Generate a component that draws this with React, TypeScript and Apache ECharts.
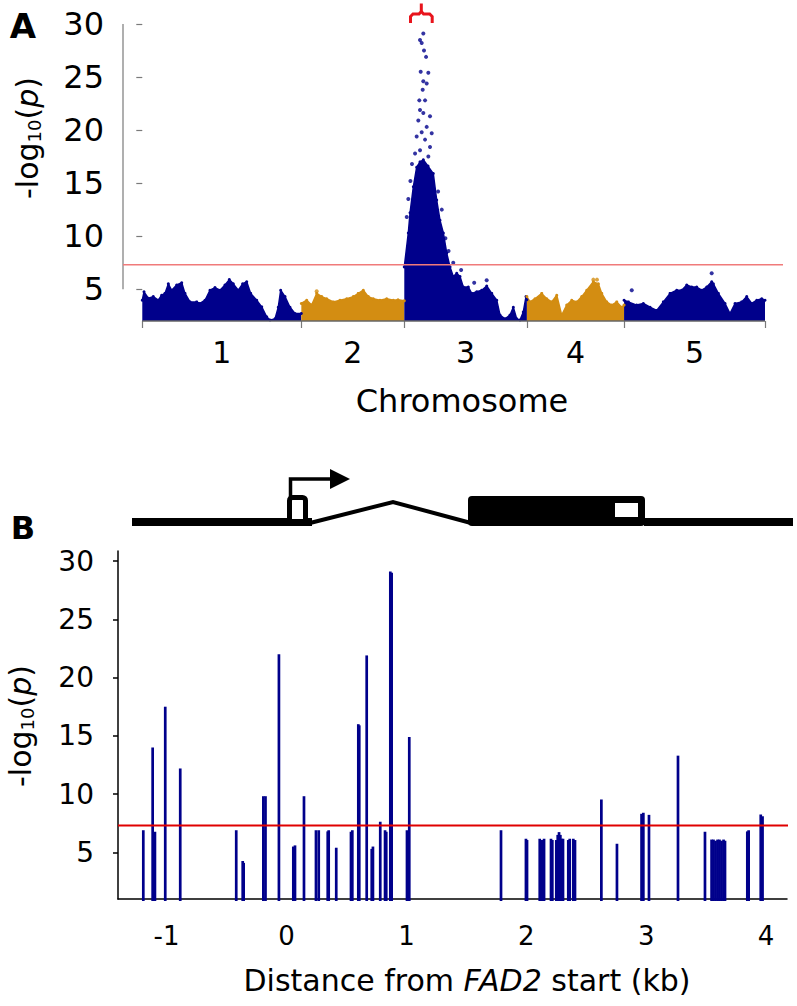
import React, { useEffect, useRef } from 'react';
import * as echarts from 'echarts';

// ---------------- Panel A data ----------------
const chromosomes = ['1', '2', '3', '4', '5'];
const chromosomeLengthsMb = [30.43, 19.7, 23.46, 18.59, 26.97];
const chromosomeColors = ['#00008b', '#d38d12', '#00008b', '#d38d12', '#00008b'];

// upper envelope of the dense SNP cloud, [cumulative genome position (Mb), -log10 p]
const chr1Envelope = [[0.0, 3.96], [0.33, 4.75], [1.15, 4.15], [2.1, 4.3], [3.06, 3.96], [3.7, 4.43], [4.34, 4.6], [4.98, 5.5], [5.62, 4.9], [6.58, 5.4], [7.54, 5.6], [8.17, 4.6], [9.13, 3.8], [10.4, 3.8], [11.04, 3.65], [12.0, 3.96], [12.95, 4.9], [13.91, 5.15], [14.87, 4.9], [15.82, 5.4], [16.65, 5.9], [17.41, 5.5], [18.37, 4.9], [19.2, 5.5], [19.98, 5.7], [20.74, 4.6], [21.89, 3.96], [22.85, 3.33], [23.8, 2.4], [24.44, 2.1], [25.39, 2.2], [26.02, 3.3], [26.48, 4.9], [27.31, 4.3], [28.26, 3.3], [29.22, 2.7], [30.43, 2.7]];
const chr2Envelope = [[30.43, 3.65], [31.46, 3.96], [32.41, 3.5], [33.37, 4.6], [34.33, 4.3], [35.28, 4.1], [36.55, 3.8], [37.83, 3.96], [39.11, 4.1], [40.38, 4.3], [41.33, 4.6], [42.29, 4.9], [43.25, 4.3], [44.2, 4.1], [45.48, 3.96], [46.76, 4.1], [48.03, 3.96], [48.93, 4.0], [50.13, 3.9]];
const chr3Envelope = [[50.13, 7.1], [50.9, 10.3], [51.23, 12.2], [51.86, 14.65], [52.5, 16.5], [53.14, 17.0], [53.77, 17.2], [54.67, 16.6], [55.68, 15.9], [56.33, 13.4], [56.96, 11.5], [57.6, 10.3], [58.25, 8.4], [58.88, 7.1], [59.51, 6.2], [60.16, 6.5], [60.79, 6.2], [61.42, 5.2], [62.38, 5.2], [63.03, 4.6], [63.99, 4.75], [64.95, 4.9], [65.9, 5.3], [66.86, 4.6], [67.82, 3.96], [68.45, 2.55], [69.41, 2.2], [70.35, 2.55], [70.99, 3.3], [71.64, 2.2], [72.27, 2.1], [72.9, 2.85], [73.42, 4.3], [73.59, 4.0]];
const chr4Envelope = [[73.59, 4.3], [74.19, 3.8], [75.14, 4.1], [76.43, 4.6], [77.38, 4.1], [78.34, 3.8], [79.3, 4.43], [80.25, 2.55], [81.21, 3.5], [82.17, 3.96], [83.12, 3.8], [84.08, 4.3], [85.04, 4.9], [86.3, 5.7], [87.26, 5.5], [87.91, 4.6], [88.86, 3.8], [89.82, 3.5], [90.78, 3.8], [91.73, 3.3], [92.18, 3.5]];
const chr5Envelope = [[92.18, 3.96], [93.0, 3.8], [94.6, 3.5], [95.87, 3.65], [97.15, 3.3], [98.43, 3.0], [99.7, 3.8], [100.98, 4.6], [102.26, 4.9], [103.21, 4.9], [104.17, 5.4], [105.13, 5.2], [106.08, 5.2], [107.04, 4.9], [108.0, 5.2], [108.95, 5.7], [109.26, 5.5], [110.22, 4.6], [111.5, 3.65], [112.45, 2.7], [113.41, 3.65], [114.69, 3.8], [115.65, 4.3], [116.61, 3.65], [117.57, 3.96], [118.52, 4.1], [119.15, 3.96]];
const chromosomeEnvelopes = [chr1Envelope, chr2Envelope, chr3Envelope, chr4Envelope, chr5Envelope];

// isolated SNPs standing above the dense cloud
const navySparsePoints = [[53.77, 29.1], [53.14, 28.5], [53.46, 28.2], [53.9, 27.5], [54.29, 26.9], [53.27, 25.5], [54.73, 25.4], [53.77, 24.6], [54.42, 24.4], [53.65, 23.8], [53.0, 22.8], [54.1, 22.8], [53.14, 21.9], [53.77, 21.6], [55.05, 21.3], [52.81, 20.9], [54.42, 20.3], [55.38, 19.7], [53.46, 19.8], [52.5, 19.4], [54.1, 19.1], [52.19, 17.8], [55.05, 18.4], [54.73, 17.5], [53.14, 18.1], [50.6, 11.8], [50.9, 13.5], [51.3, 15.2], [51.6, 16.8], [56.6, 14.2], [57.3, 12.5], [58.0, 9.8], [58.6, 8.6], [59.5, 7.5], [61.0, 6.8], [63.5, 5.6], [65.9, 5.85], [93.65, 4.9], [108.95, 6.5]];
const orangeSparsePoints = [[86.3, 5.9], [87.0, 5.9], [33.37, 4.8]];

const thresholdA = 7.3;
const yTicksA = [5, 10, 15, 20, 25, 30];

// ---------------- Panel B data ----------------
const snpPositionsKb = [-1.194, -1.116, -1.097, -1.011, -0.886, -0.419, -0.365, -0.357, -0.193, -0.175, -0.063, 0.057, 0.071, 0.146, 0.246, 0.269, 0.344, 0.352, 0.415, 0.538, 0.549, 0.599, 0.607, 0.669, 0.711, 0.721, 0.782, 0.822, 0.832, 0.866, 0.877, 1.005, 1.024, 1.789, 1.997, 2.006, 2.112, 2.125, 2.137, 2.148, 2.206, 2.217, 2.25, 2.262, 2.273, 2.284, 2.295, 2.306, 2.35, 2.362, 2.392, 2.406, 2.626, 2.756, 2.961, 2.976, 3.023, 3.265, 3.49, 3.545, 3.561, 3.578, 3.595, 3.611, 3.628, 3.645, 3.657, 3.843, 3.854, 3.955, 3.97];
const snpValues = [6.9, 14.0, 6.77, 17.5, 12.2, 6.9, 4.26, 4.1, 9.82, 9.82, 22.0, 5.5, 5.6, 9.82, 6.9, 6.9, 6.8, 6.9, 5.4, 6.77, 6.9, 16.0, 15.9, 21.9, 5.3, 5.5, 7.63, 6.9, 6.77, 29.1, 29.0, 6.9, 14.9, 6.9, 6.17, 6.06, 6.17, 6.06, 6.06, 6.17, 6.17, 6.06, 6.06, 6.5, 6.74, 6.5, 6.17, 6.17, 6.06, 6.17, 6.17, 6.06, 9.54, 5.74, 8.31, 8.4, 8.22, 13.3, 6.77, 6.1, 6.1, 6.0, 6.1, 6.1, 6.0, 6.1, 6.0, 6.8, 6.9, 8.25, 8.1];
const thresholdB = 7.3;
const xTicksB = [-1, 0, 1, 2, 3, 4];
const yTicksB = [5, 10, 15, 20, 25, 30];

// ---------------- styling / layout ----------------
const FONT = 'DejaVu Sans';
const NAVY = '#00008b';
const AXIS_GRAY = '#7a7a7a';
const W = 797;
const H = 1006;

// axis ranges (layout)
const Y_MIN_A = 2;
const Y_MAX_A = 30;
const X_MIN_A = -3.69;
const X_MAX_A = 122.59;
const Y_MIN_B = 1;
const Y_MAX_B = 30.86;
const X_MIN_B = -1.405;
const X_MAX_B = 4.174;
const BAR_W = 2.7;

function buildOption() {
  const offsets: number[] = [];
  let acc = 0;
  chromosomeLengthsMb.forEach((len) => {
    offsets.push(acc);
    acc += len;
  });
  const genomeLength = acc;
  const boundaries = [...offsets, genomeLength];
  const centers = offsets.map((o, i) => o + chromosomeLengthsMb[i] / 2);

  const areaSeries = chromosomeEnvelopes.map((env, i) => ({
    type: 'line',
    name: 'Chr' + chromosomes[i],
    xAxisIndex: 0,
    yAxisIndex: 0,
    data: env,
    symbol: 'circle',
    symbolSize: 3,
    showSymbol: true,
    silent: true,
    lineStyle: { color: chromosomeColors[i], width: 1.5 },
    itemStyle: { color: chromosomeColors[i] },
    areaStyle: { color: chromosomeColors[i], opacity: 1, origin: 'start' },
    z: 2,
  }));

  const richLabel = (size: number, sub: number, pad: number) => ({
    s: { fontSize: sub, fontFamily: FONT, color: '#000', padding: [pad, 0, 0, 0] },
    p: { fontSize: size, fontFamily: FONT, fontStyle: 'italic', color: '#000' },
  });

  return {
    animation: false,
    backgroundColor: '#ffffff',
    textStyle: { fontFamily: FONT },
    grid: [
      { left: 123, top: 24, width: 660, height: 297, outerBoundsMode: 'none', containLabel: false },
      { left: 118, top: 551, width: 669, height: 348, outerBoundsMode: 'none', containLabel: false },
    ],
    xAxis: [
      {
        gridIndex: 0,
        type: 'value',
        min: X_MIN_A,
        max: X_MAX_A,
        axisLine: { show: false },
        splitLine: { show: false },
        axisTick: { show: true, customValues: boundaries, length: 7, lineStyle: { color: AXIS_GRAY, width: 1.2 } },
        axisLabel: {
          customValues: centers,
          formatter: (v: number) => {
            const idx = centers.findIndex((c) => Math.abs(c - v) < 0.01);
            return idx >= 0 ? chromosomes[idx] : '';
          },
          fontSize: 30,
          fontFamily: FONT,
          color: '#000',
          margin: 16,
        },
      },
      {
        gridIndex: 1,
        type: 'value',
        min: X_MIN_B,
        max: X_MAX_B,
        axisLine: { show: true, onZero: false, lineStyle: { color: '#000', width: 1.5 } },
        axisTick: { show: false },
        splitLine: { show: false },
        axisLabel: { customValues: xTicksB, fontSize: 26, fontFamily: FONT, color: '#000', margin: 24 },
      },
    ],
    yAxis: [
      {
        gridIndex: 0,
        type: 'value',
        min: Y_MIN_A,
        max: Y_MAX_A,
        axisLine: { show: false },
        splitLine: { show: false },
        axisTick: { show: true, customValues: yTicksA, length: 6, lineStyle: { color: AXIS_GRAY, width: 1.2 } },
        axisLabel: { customValues: yTicksA, fontSize: 32, fontFamily: FONT, color: '#000', margin: 19 },
      },
      {
        gridIndex: 1,
        type: 'value',
        min: Y_MIN_B,
        max: Y_MAX_B,
        axisLine: { show: true, onZero: false, lineStyle: { color: '#000', width: 1.5 } },
        splitLine: { show: false },
        axisTick: { show: true, customValues: yTicksB, length: 5, lineStyle: { color: '#000', width: 1.5 } },
        axisLabel: { customValues: yTicksB, fontSize: 28, fontFamily: FONT, color: '#000', margin: 24 },
      },
    ],
    series: [
      ...areaSeries,
      {
        type: 'scatter',
        xAxisIndex: 0,
        yAxisIndex: 0,
        data: navySparsePoints,
        symbol: 'circle',
        symbolSize: 4,
        itemStyle: { color: NAVY },
        silent: true,
        z: 3,
      },
      {
        type: 'scatter',
        xAxisIndex: 0,
        yAxisIndex: 0,
        data: orangeSparsePoints,
        symbol: 'circle',
        symbolSize: 4,
        itemStyle: { color: chromosomeColors[1] },
        silent: true,
        z: 3,
      },
      // panel A axis lines
      {
        type: 'line',
        xAxisIndex: 0,
        yAxisIndex: 0,
        data: [[0, Y_MIN_A], [genomeLength, Y_MIN_A]],
        showSymbol: false,
        clip: false,
        silent: true,
        lineStyle: { color: '#666', width: 1.5 },
        z: 4,
      },
      {
        type: 'line',
        xAxisIndex: 0,
        yAxisIndex: 0,
        data: [[X_MIN_A, yTicksA[0]], [X_MIN_A, yTicksA[yTicksA.length - 1]]],
        showSymbol: false,
        clip: false,
        silent: true,
        lineStyle: { color: AXIS_GRAY, width: 1.2 },
        z: 4,
      },
      // panel A threshold
      {
        type: 'line',
        xAxisIndex: 0,
        yAxisIndex: 0,
        data: [[X_MIN_A, thresholdA], [X_MAX_A, thresholdA]],
        showSymbol: false,
        clip: false,
        silent: true,
        lineStyle: { color: '#f07a7a', width: 1.6 },
        z: 5,
      },
      // panel B bars
      {
        type: 'custom',
        xAxisIndex: 1,
        yAxisIndex: 1,
        data: snpPositionsKb.map((p, i) => [p, snpValues[i]]),
        encode: { x: 0, y: 1 },
        silent: true,
        renderItem: (params: any, api: any) => {
          const pos = api.value(0);
          const val = api.value(1);
          const top = api.coord([pos, val]);
          const base = api.coord([pos, Y_MIN_B]);
          return {
            type: 'rect',
            shape: { x: top[0] - BAR_W / 2, y: top[1], width: BAR_W, height: base[1] - top[1] + 2 },
            style: { fill: NAVY },
          };
        },
        z: 2,
      },
      // panel B threshold
      {
        type: 'line',
        xAxisIndex: 1,
        yAxisIndex: 1,
        data: [[X_MIN_B, thresholdB], [X_MAX_B + 0.02, thresholdB]],
        showSymbol: false,
        clip: false,
        silent: true,
        lineStyle: { color: '#e00000', width: 2 },
        z: 5,
      },
    ],
    graphic: [
      // panel letters
      { type: 'text', x: 23, y: 26, style: { text: 'A', fontSize: 34, fontWeight: 'bold', fontFamily: FONT, fill: '#000', align: 'center', verticalAlign: 'middle' } },
      { type: 'text', x: 23, y: 528, style: { text: 'B', fontSize: 32, fontWeight: 'bold', fontFamily: FONT, fill: '#000', align: 'center', verticalAlign: 'middle' } },
      // y axis names
      {
        type: 'text',
        x: 27,
        y: 138,
        rotation: Math.PI / 2,
        style: {
          text: '-log{s|10}({p|p})',
          fontSize: 30,
          fontFamily: FONT,
          fill: '#000',
          align: 'center',
          verticalAlign: 'middle',
          rich: richLabel(30, 18, 14),
        },
      },
      {
        type: 'text',
        x: 20,
        y: 726,
        rotation: Math.PI / 2,
        style: {
          text: '-log{s|10}({p|p})',
          fontSize: 30,
          fontFamily: FONT,
          fill: '#000',
          align: 'center',
          verticalAlign: 'middle',
          rich: richLabel(30, 18, 14),
        },
      },
      // x axis names
      { type: 'text', x: 462, y: 401, style: { text: 'Chromosome', fontSize: 32, fontFamily: FONT, fill: '#000', align: 'center', verticalAlign: 'middle' } },
      {
        type: 'text',
        x: 467,
        y: 980,
        style: {
          text: 'Distance from {i|FAD2} start (kb)',
          fontSize: 30,
          fontFamily: FONT,
          fill: '#000',
          align: 'center',
          verticalAlign: 'middle',
          rich: { i: { fontSize: 30, fontFamily: FONT, fontStyle: 'italic', color: '#000' } },
        },
      },
      // red bracket above the chromosome 3 peak
      { type: 'polyline', shape: { points: [[410.5, 23], [410.5, 16.5], [413, 14], [419, 14], [421.3, 11.5], [421.3, 3.5]] }, style: { stroke: '#e8141c', lineWidth: 3, fill: null } },
      { type: 'polyline', shape: { points: [[432.2, 23], [432.2, 16.5], [429.7, 14], [423.6, 14], [421.3, 11.5]] }, style: { stroke: '#e8141c', lineWidth: 3, fill: null } },
      // gene model
      { type: 'rect', shape: { x: 132, y: 518, width: 180, height: 8 }, style: { fill: '#000' } },
      { type: 'rect', shape: { x: 289.5, y: 497.5, width: 16, height: 24, r: [3, 3, 0, 0] }, style: { fill: '#fff', stroke: '#000', lineWidth: 5 } },
      { type: 'polyline', shape: { points: [[290.5, 497], [290.5, 479], [333, 479]] }, style: { stroke: '#000', lineWidth: 3.5, fill: null } },
      { type: 'polygon', shape: { points: [[330, 469], [350, 479], [330, 489]] }, style: { fill: '#000' } },
      { type: 'polyline', shape: { points: [[310, 523], [393, 502], [471, 523]] }, style: { stroke: '#000', lineWidth: 4, fill: null } },
      { type: 'rect', shape: { x: 468, y: 496, width: 177, height: 30, r: 4 }, style: { fill: '#000' } },
      { type: 'rect', shape: { x: 615, y: 503, width: 23, height: 14 }, style: { fill: '#fff' } },
      { type: 'rect', shape: { x: 644, y: 518, width: 149, height: 8 }, style: { fill: '#000' } },
    ],
  };
}

export default function App() {
  const ref = useRef<HTMLDivElement>(null);
  useEffect(() => {
    document.body.style.margin = '0';
    if (!ref.current) return;
    const chart = echarts.init(ref.current, null, { renderer: 'svg' });
    chart.setOption(buildOption() as any);
    return () => {
      chart.dispose();
    };
  }, []);
  return <div ref={ref} style={{ width: W, height: H, position: 'absolute', left: 0, top: 0, background: '#fff' }} />;
}
